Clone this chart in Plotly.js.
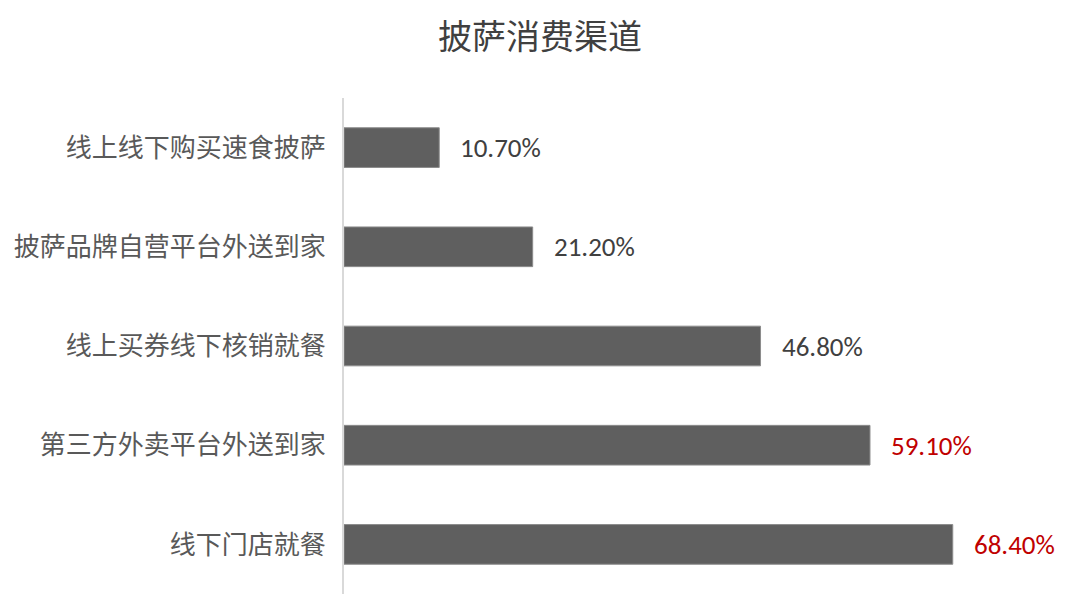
<!DOCTYPE html>
<html>
<head>
<meta charset="utf-8">
<script src="https://cdn.plot.ly/plotly-3.0.1.min.js"></script>
<style>
  html, body { margin: 0; padding: 0; background: #fff; }
  #chart { width: 1080px; height: 610px; }
</style>
</head>
<body>
<div id="chart"></div>
<script>
// channels, top to bottom as in the picture
const channels = [
  "线上线下购买速食披萨",
  "披萨品牌自营平台外送到家",
  "线上买券线下核销就餐",
  "第三方外卖平台外送到家",
  "线下门店就餐",
];
const shares = [10.7, 21.2, 46.8, 59.1, 68.4];
const shareLabels = ["10.70%", "21.20%", "46.80%", "59.10%", "68.40%"];
const labelColors = ["#404040", "#404040", "#404040", "#c00000", "#c00000"];

const cjkFont = '"Noto Sans CJK SC", "Noto Sans", sans-serif';
const numFont = 'Carlito, Calibri, "Noto Sans", sans-serif';

const trace = {
  type: "bar",
  orientation: "h",
  x: shares,
  y: channels,
  marker: { color: "#5f5f5f", line: { color: "#8c8c8c", width: 1 } },
  hoverinfo: "none",
};

// value labels sit a little right of each bar end
const annotations = channels.map((c, i) => ({
  x: shares[i],
  y: c,
  xref: "x",
  yref: "y",
  text: shareLabels[i],
  showarrow: false,
  xanchor: "left",
  yanchor: "middle",
  xshift: 19,
  font: { family: numFont, size: 27, color: labelColors[i] },
}));

const layout = {
  width: 1080,
  height: 610,
  margin: { t: 98, l: 344, r: 24, b: 16 },
  paper_bgcolor: "#fff",
  plot_bgcolor: "#fff",
  showlegend: false,
  bargap: 0.6,
  title: {
    text: "披萨消费渠道",
    x: 0.5,
    xref: "container",
    xanchor: "center",
    y: 0.94,
    yref: "container",
    yanchor: "middle",
    font: { family: cjkFont, size: 34, color: "#404040" },
  },
  xaxis: {
    range: [0, 80],
    visible: false,
    fixedrange: true,
  },
  yaxis: {
    autorange: "reversed",
    showline: true,
    linecolor: "#d9d9d9",
    linewidth: 2,
    showgrid: false,
    zeroline: false,
    ticks: "",
    ticklabelstandoff: 11,
    tickfont: { family: cjkFont, size: 26, color: "#595959" },
    fixedrange: true,
  },
  annotations: annotations,
};

Plotly.newPlot("chart", [trace], layout, { displayModeBar: false, staticPlot: true });
</script>
</body>
</html>
